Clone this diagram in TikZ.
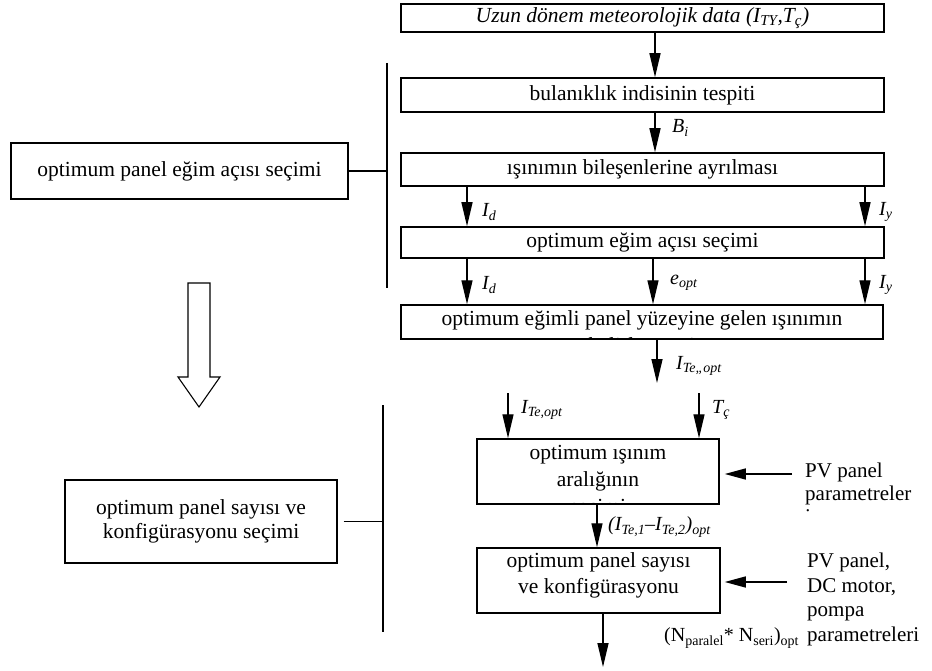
\documentclass[tikz,border=0pt]{standalone}
\usepackage{fontspec}
\setmainfont{Liberation Serif}
\usetikzlibrary{arrows.meta}
\newcommand{\mysub}[1]{\textsubscript{#1}}
\begin{document}
\begin{tikzpicture}[x=1pt,y=-1pt,
  procbox/.style={draw, line width=1.5pt, inner sep=0pt, align=center, font=\fontsize{21.5}{24}\selectfont},
  boxtext/.style={inner sep=0pt, align=center, font=\fontsize{21.5}{24}\selectfont},
  arr/.style={line width=1.4pt, -{Triangle[length=24pt,width=11pt]}},
  harr/.style={line width=1.4pt, -{Triangle[length=21pt,width=11pt]}},
  lbl/.style={font=\fontsize{20}{22}\selectfont, inner sep=0pt, anchor=west},
  sidetext/.style={font=\fontsize{21}{24.5}\selectfont, inner sep=0pt, align=left, anchor=north west},
  brk/.style={line width=1.5pt}]
\useasboundingbox (0,0) rectangle (932,671);

% ---------- right column, upper part ----------
\node[procbox, minimum width=483pt, minimum height=28pt] (b1) at (642.5,18)
  {\textit{Uzun dönem meteorolojik data (I\mysub{TY},T\mysub{ç})}};
\node[procbox, minimum width=483pt, minimum height=34pt] (b2) at (642.5,95)
  {bulanıklık indisinin tespiti};
\node[procbox, minimum width=483pt, minimum height=33pt] (b3) at (642.5,169.5)
  {ışınımın bileşenlerine ayrılması};
\node[procbox, minimum width=483pt, minimum height=31pt] (b4) at (642.5,242.5)
  {optimum eğim açısı seçimi};
\node[procbox, minimum width=482pt, minimum height=34pt] (b5) at (642,322) {};
\begin{scope}
  \clip (b5.north west) rectangle (b5.south east);
  \node[boxtext, font=\fontsize{21.5}{27}\selectfont] (t5) at (642,331.6)
    {optimum eğimli panel yüzeyine gelen ışınımın\\belirlenmesi};
\end{scope}

\coordinate (xm) at (655,0);
\coordinate (xL) at (467,0);
\coordinate (xR) at (865,0);
\coordinate (xE) at (653,0);

\draw[arr] (xm |- b1.south) -- (xm |- b2.north);
\draw[arr] (xm |- b2.south) -- (xm |- b3.north);
\node[lbl] (lBi) at (672,128) {\textit{B\mysub{i}}};

\draw[arr] (xL |- b3.south) -- (xL |- b4.north);
\draw[arr] (xR |- b3.south) -- (xR |- b4.north);
\node[lbl] (lId1) at (482,212) {\textit{I\mysub{d}}};
\node[lbl] (lIy1) at (879,212) {\textit{I\mysub{y}}};

\draw[arr] (xL |- b4.south) -- (xL |- b5.north);
\draw[arr] (xE |- b4.south) -- (xE |- b5.north);
\draw[arr] (xR |- b4.south) -- (xR |- b5.north);
\node[lbl] (lId2) at (482,285) {\textit{I\mysub{d}}};
\node[lbl] (leo) at (670,283) {\textit{e\mysub{opt}}};
\node[lbl] (lIy2) at (879,285) {\textit{I\mysub{y}}};

\coordinate (c5) at (657,383);
\draw[arr] (c5 |- b5.south) -- (c5);
\node[lbl] (lIte) at (676,366) {\textit{I\mysub{Te,,opt}}};

% ---------- right column, lower part ----------
\node[procbox, minimum width=242pt, minimum height=65pt] (b6) at (598,471.5) {};
\begin{scope}
  \clip (b6.north west) rectangle (b6.south east);
  \node[boxtext, font=\fontsize{21.5}{27}\selectfont] (t6) at (598,481.5) {optimum ışınım\\aralığının\\seçimi};
\end{scope}
\node[procbox, minimum width=243pt, minimum height=65pt] (b7) at (598.5,580.5) {};
\node[boxtext, font=\fontsize{21.5}{26}\selectfont] (t7) at (598.5,575.5) {optimum panel sayısı\\ve konfigürasyonu};

\coordinate (s1) at (508,393);
\coordinate (s2) at (699,393);
\draw[arr] (s1) -- (s1 |- b6.north);
\draw[arr] (s2) -- (s2 |- b6.north);
\node[lbl] (lIto) at (521,410) {\textit{I\mysub{Te,opt}}};
\node[lbl] (lTc) at (712,410) {\textit{T\mysub{ç}}};

\coordinate (x6) at (597,0);
\draw[arr] (x6 |- b6.south) -- (x6 |- b7.north);
\node[lbl] (lrange) at (608,527) {\textit{(I\mysub{Te,1}–I\mysub{Te,2})\mysub{opt}}};

\coordinate (c7) at (603,667);
\draw[arr] (c7 |- b7.south) -- (c7);
\node[lbl] (lN) at (664,638) {(N\mysub{paralel}* N\mysub{seri})\mysub{opt}};

\coordinate (p1) at (792,474);
\draw[harr, shorten >=5pt] (p1) -- (b6.east |- p1);
\begin{scope}
  \clip (795,450) rectangle (932,511);
  \node[sidetext, font=\fontsize{21}{23}\selectfont] (pv1) at (805,463) {PV panel\\parametreler\\i};
\end{scope}

\coordinate (p2) at (787,582);
\draw[harr, shorten >=4pt] (p2) -- (b7.east |- p2);
\node[sidetext] (pv2) at (807,553) {PV panel,\\DC motor,\\pompa\\parametreleri};

% ---------- left column ----------
\node[procbox, minimum width=337pt, minimum height=56pt] (lb1) at (179.5,171)
  {optimum panel eğim açısı seçimi};
\coordinate (v1t) at (387,63);
\coordinate (v1b) at (387,288);
\draw[brk] (v1t) -- (v1b);
\draw[brk] (lb1.east) -- (v1t |- lb1.east);

\node[procbox, minimum width=272pt, minimum height=83pt, line width=1.3pt] (lb2) at (201,521.5)
  {optimum panel sayısı ve\\konfigürasyonu seçimi};
\coordinate (v2t) at (383,405);
\coordinate (v2b) at (383,632);
\draw[brk] (v2t) -- (v2b);
\draw[brk] ([xshift=6pt]lb2.east) -- (v2t |- lb2.east);

% hollow block arrow
\draw[line width=1.1pt, line join=miter] (188,283) -- (210,283) -- (210,377) -- (220,377)
  -- (199,407) -- (178,377) -- (188,377) -- cycle;
\end{tikzpicture}
\end{document}
